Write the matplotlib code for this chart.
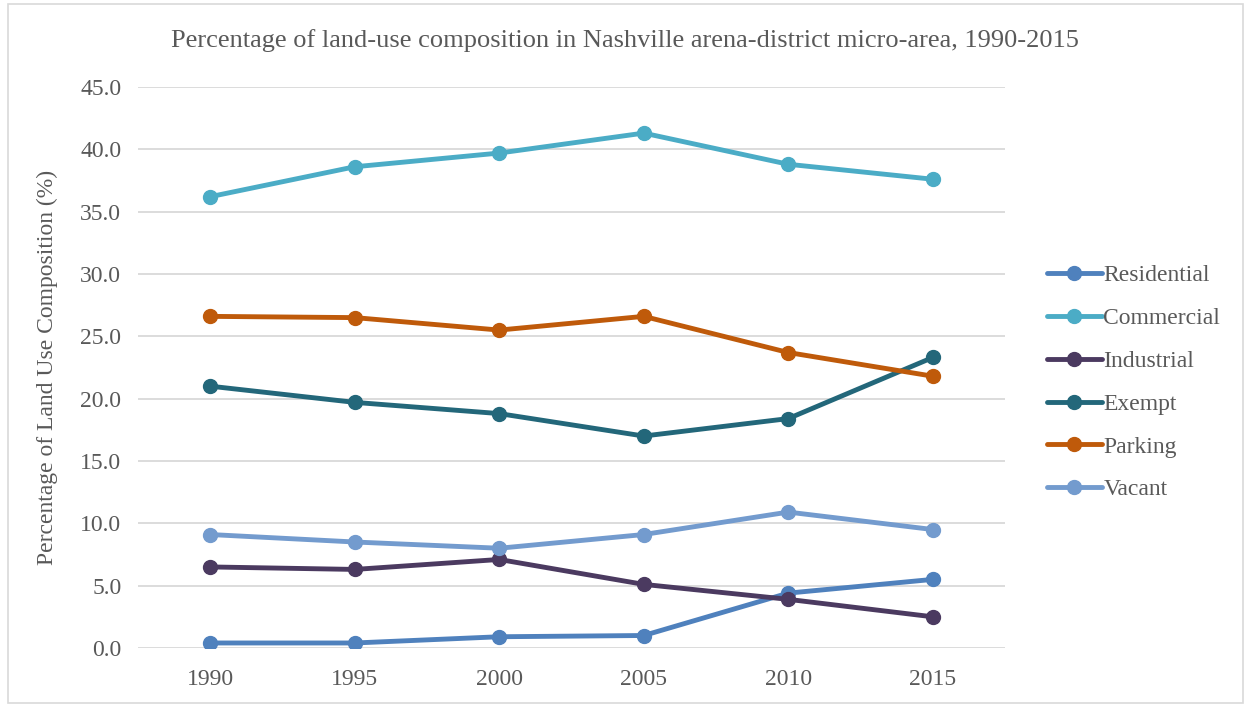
import matplotlib.pyplot as plt
from matplotlib.patches import Rectangle

plt.rcParams['font.family'] = ['Liberation Serif', 'DejaVu Serif']

years = ['1990', '1995', '2000', '2005', '2010', '2015']
residential = [0.4, 0.4, 0.9, 1.0, 4.4, 5.5]
commercial = [36.2, 38.6, 39.7, 41.3, 38.8, 37.6]
industrial = [6.5, 6.3, 7.1, 5.1, 3.9, 2.5]
exempt = [21.0, 19.7, 18.8, 17.0, 18.4, 23.3]
parking = [26.6, 26.5, 25.5, 26.6, 23.7, 21.8]
vacant = [9.1, 8.5, 8.0, 9.1, 10.9, 9.5]

series = [
    ('Residential', residential, '#4f81bd'),
    ('Commercial', commercial, '#4bacc6'),
    ('Industrial', industrial, '#4b3a60'),
    ('Exempt', exempt, '#23677a'),
    ('Parking', parking, '#bf5a0a'),
    ('Vacant', vacant, '#739bce'),
]

fig = plt.figure(figsize=(12.5, 7.06), dpi=100)
ax = fig.add_axes([0.1104, 0.0822, 0.6936, 0.7946])

x = range(len(years))
for name, vals, col in series:
    ax.plot(x, vals, color=col, lw=3.5, marker='o', ms=10, label=name,
            solid_capstyle='round')

ax.set_xlim(-0.5, 5.5)
ax.set_ylim(0, 45)
ax.set_yticks([i * 5 for i in range(10)])
ax.set_yticklabels([f'{i * 5:.1f}' for i in range(10)])
ax.set_xticks(list(x))
ax.set_xticklabels(years)
ax.grid(axis='y', color='#d9d9d9', lw=1.3)
ax.set_axisbelow(True)
for s in ax.spines.values():
    s.set_visible(False)
ax.tick_params(length=0, labelsize=17, colors='#595959', pad=12)
ax.tick_params(axis='x', pad=15)
ax.set_ylabel('Percentage of Land Use Composition (%)', fontsize=17,
              color='#595959', labelpad=16)

fig.text(0.5, 0.942, 'Percentage of land-use composition in Nashville arena-district micro-area, 1990-2015',
         ha='center', va='center', fontsize=19, color='#595959')

ax.legend(loc='center left', bbox_to_anchor=(1.037, 0.473), frameon=False,
          fontsize=17, labelcolor='#595959', handlelength=2.33,
          handletextpad=0.08, labelspacing=0.9, borderaxespad=0)

fig.patches.append(Rectangle((0.006, 0.004), 0.988, 0.99, transform=fig.transFigure,
                             fill=False, edgecolor='#d9d9d9', lw=1.2))

fig.savefig('out.png', dpi=100)
